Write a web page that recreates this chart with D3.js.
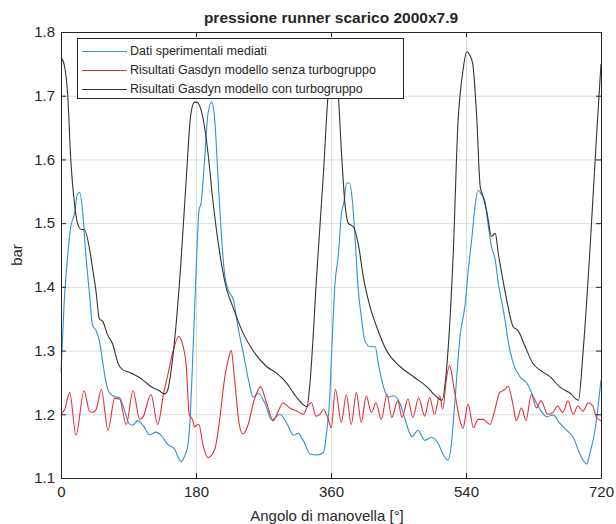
<!DOCTYPE html>
<html>
<head>
<meta charset="utf-8">
<script src="https://cdn.jsdelivr.net/npm/d3@7"></script>
<style>
  body { margin: 0; background: #fff; }
  svg text { font-family: "Liberation Sans", Arial, sans-serif; fill: #262626; }
</style>
</head>
<body>
<svg id="chart"></svg>
<script>
// crank angle [deg] vs pressure [bar]
let xTicks = [0, 180, 360, 540, 720];
let yTicks = [1.1, 1.2, 1.3, 1.4, 1.5, 1.6, 1.7, 1.8];
let seriesNames = ["Dati sperimentali mediati",
                   "Risultati Gasdyn modello senza turbogruppo",
                   "Risultati Gasdyn modello con turbogruppo"];

let measured = [[0,1.265],[4,1.37],[9,1.45],[13,1.494],[18,1.515],[22,1.546],[25,1.548],[29,1.515],[33,1.452],
  [38,1.389],[42,1.34],[47,1.331],[51,1.316],[56,1.279],[60,1.25],[64,1.235],[71,1.228],[78,1.226],[85,1.205],
  [91,1.185],[96,1.183],[102,1.19],[111,1.18],[118,1.168],[127,1.172],[134,1.166],[143,1.152],[151,1.146],
  [160,1.126],[165,1.135],[169,1.15],[172,1.19],[175,1.27],[178,1.36],[181,1.45],[184,1.52],[187,1.533],
  [192,1.61],[196,1.672],[201,1.69],[205,1.662],[209.5,1.568],[214,1.479],[218,1.421],[223,1.395],[230,1.379],
  [236,1.337],[243,1.296],[250,1.254],[256,1.227],[263,1.233],[272,1.217],[281,1.191],[292,1.2],[301,1.186],
  [310,1.167],[316,1.17],[323,1.159],[332,1.138],[341,1.136],[350,1.14],[354,1.17],[358,1.22],[361,1.3],
  [365,1.4],[370,1.453],[374,1.516],[377,1.531],[381,1.563],[384.5,1.563],[388,1.541],[392,1.479],[396,1.4],
  [401,1.348],[405,1.316],[412,1.306],[419,1.306],[423,1.28],[430,1.243],[436,1.227],[443,1.229],[452,1.217],
  [459,1.191],[468,1.165],[476,1.175],[485,1.159],[494,1.164],[503,1.154],[509,1.138],[516,1.128],[520,1.148],
  [525,1.217],[532,1.322],[539,1.374],[543,1.426],[548,1.479],[552,1.526],[556,1.552],[560,1.546],[565,1.536],
  [570,1.494],[574,1.463],[579,1.442],[583,1.406],[588,1.374],[592,1.348],[596,1.316],[603,1.28],[612,1.259],
  [621,1.249],[630,1.227],[639,1.207],[648,1.196],[656,1.199],[665,1.186],[674,1.175],[683,1.164],[690,1.143],
  [696,1.128],[701,1.122],[705,1.138],[712,1.175],[720,1.254]];

let noTurbo = [[0,1.2],[5,1.208],[11.6,1.234],[20,1.167],[30.7,1.237],[38,1.205],[42.7,1.203],[47,1.208],
  [53.8,1.239],[62.7,1.175],[71.6,1.225],[78,1.224],[87,1.184],[96,1.237],[105,1.192],[109,1.195],[120,1.231],
  [129,1.184],[137,1.234],[143,1.265],[149,1.297],[157,1.322],[162,1.31],[167,1.276],[171,1.2],[176,1.19],
  [178,1.18],[180,1.182],[184,1.184],[189,1.153],[196,1.132],[205,1.145],[211.6,1.192],[218,1.255],[224,1.29],
  [227,1.3],[231,1.26],[238,1.182],[242.7,1.169],[249,1.182],[258,1.224],[266,1.243],[274,1.218],[283,1.19],
  [289,1.203],[296,1.218],[305,1.21],[314,1.205],[323,1.2],[329,1.213],[334,1.218],[340,1.197],[345,1.2],
  [350,1.208],[356,1.193],[360.4,1.179],[365.8,1.239],[373.8,1.187],[380.4,1.231],[387,1.184],[393.8,1.234],
  [400.4,1.187],[407,1.229],[413.8,1.203],[420,1.218],[427,1.192],[434.7,1.231],[441,1.195],[449,1.221],
  [454.7,1.195],[462.7,1.224],[469,1.195],[476.9,1.226],[484.9,1.197],[491.6,1.226],[498,1.2],[504.9,1.229],
  [509,1.208],[513.8,1.255],[518,1.276],[525,1.234],[531.6,1.192],[536,1.178],[542.7,1.216],[550,1.179],
  [556,1.192],[563,1.192],[572,1.184],[578,1.205],[585,1.234],[592,1.239],[596,1.244],[603,1.213],[607,1.19],
  [614,1.21],[620,1.19],[627,1.231],[634,1.21],[640,1.221],[649,1.2],[656,1.203],[662,1.213],[669,1.203],
  [676,1.221],[683,1.2],[689,1.213],[696,1.205],[703,1.218],[709,1.213],[714,1.195],[720,1.19]];

let withTurbo = [[0,1.76],[4,1.75],[9,1.7],[13,1.6],[18,1.53],[22,1.5],[27,1.49],[31,1.49],[38,1.46],[42,1.43],
  [47,1.39],[51,1.35],[56,1.345],[62,1.325],[69,1.31],[76,1.28],[82,1.27],[91,1.266],[104,1.258],[113,1.25],
  [122,1.242],[131,1.237],[138,1.232],[142,1.237],[147,1.27],[153,1.335],[160,1.44],[167,1.57],[173,1.67],
  [178,1.69],[181,1.69],[189,1.667],[196,1.61],[202,1.541],[211,1.458],[220,1.4],[229,1.369],[243,1.327],
  [256,1.3],[274,1.275],[287,1.265],[301,1.249],[314,1.227],[328,1.212],[332,1.25],[341,1.42],[350,1.58],
  [356,1.7],[362,1.75],[366,1.74],[370,1.696],[374,1.61],[379,1.526],[383,1.5],[390,1.494],[397,1.463],
  [403,1.416],[412,1.369],[421,1.337],[434,1.3],[452,1.275],[470,1.259],[488,1.243],[501,1.227],[508,1.222],
  [514,1.27],[523,1.453],[529.5,1.662],[532,1.7],[536,1.74],[541,1.769],[545,1.764],[549,1.75],[554,1.672],
  [559,1.557],[563,1.541],[568,1.516],[574,1.479],[579,1.484],[583,1.453],[590,1.406],[596,1.369],[603,1.337],
  [609,1.332],[619,1.306],[629,1.28],[639,1.269],[652,1.259],[665,1.243],[679,1.233],[690,1.222],[696,1.296],
  [705,1.453],[714,1.636],[720,1.75]];

let colours = ["#3591c7", "#e0303a", "#333333"];

let width = 616, height = 524;
let margin = {top: 32, right: 15, bottom: 46, left: 61};

let svg = d3.select("#chart")
  .attr("width", width)
  .attr("height", height);

let x = d3.scaleLinear().domain([0, 720]).range([margin.left, width - margin.right]);
let y = d3.scaleLinear().domain([1.1, 1.8]).range([height - margin.bottom, margin.top]);
let plotW = width - margin.left - margin.right;
let plotH = height - margin.top - margin.bottom;

// grid
svg.append("g")
  .attr("transform", "translate(" + margin.left + ",0)")
  .call(d3.axisLeft(y).tickValues(yTicks).tickSize(-plotW).tickFormat(""))
  .call(g => g.select(".domain").remove())
  .selectAll("line").attr("stroke", "#dedede");
svg.append("g")
  .attr("transform", "translate(0," + (height - margin.bottom) + ")")
  .call(d3.axisBottom(x).tickValues(xTicks).tickSize(-plotH).tickFormat(""))
  .call(g => g.select(".domain").remove())
  .selectAll("line").attr("stroke", "#dedede");

// lines
let line = d3.line()
  .x(d => x(d[0]))
  .y(d => y(d[1]))
  .curve(d3.curveMonotoneX);

[measured, noTurbo, withTurbo].forEach((s, i) => {
  svg.append("path")
    .datum(s)
    .attr("fill", "none")
    .attr("stroke", colours[i])
    .attr("stroke-width", 1.1)
    .attr("d", line);
});

// axes (ticks inside, box)
let fmt = d3.format(".1f");
function styleAxis(g) {
  g.select(".domain").attr("stroke", "#262626");
  g.selectAll(".tick line").attr("stroke", "#262626");
  g.selectAll("text").style("font-size", "15px").attr("fill", "#262626");
}
svg.append("g")
  .attr("transform", "translate(" + margin.left + ",0)")
  .call(d3.axisLeft(y).tickValues(yTicks).tickFormat(fmt).tickSizeInner(-5).tickSizeOuter(0).tickPadding(6))
  .call(styleAxis);
svg.append("g")
  .attr("transform", "translate(" + (width - margin.right) + ",0)")
  .call(d3.axisRight(y).tickValues(yTicks).tickFormat("").tickSizeInner(-5).tickSizeOuter(0))
  .call(styleAxis);
svg.append("g")
  .attr("transform", "translate(0," + (height - margin.bottom) + ")")
  .call(d3.axisBottom(x).tickValues(xTicks).tickFormat(d3.format("d")).tickSizeInner(-5).tickSizeOuter(0).tickPadding(8))
  .call(styleAxis);
svg.append("g")
  .attr("transform", "translate(0," + margin.top + ")")
  .call(d3.axisTop(x).tickValues(xTicks).tickFormat("").tickSizeInner(-5).tickSizeOuter(0))
  .call(styleAxis);

// title + labels
svg.append("text")
  .attr("x", margin.left + plotW / 2)
  .attr("y", 23)
  .attr("text-anchor", "middle")
  .style("font-size", "15.5px")
  .style("font-weight", "bold")
  .attr("fill", "#000")
  .text("pressione runner scarico 2000x7.9");

svg.append("text")
  .attr("x", margin.left + plotW / 2 - 4)
  .attr("y", 521)
  .attr("text-anchor", "middle")
  .style("font-size", "15px")
  .text("Angolo di manovella [°]");

svg.append("text")
  .attr("transform", "translate(22," + (margin.top + plotH / 2) + ") rotate(-90)")
  .attr("text-anchor", "middle")
  .style("font-size", "15px")
  .text("bar");

// legend
let legend = svg.append("g").attr("transform", "translate(77,38)");
legend.append("rect")
  .attr("x", 0.5).attr("y", 0.5)
  .attr("width", 326)
  .attr("height", 60)
  .attr("fill", "#fff")
  .attr("stroke", "#262626")
  .attr("stroke-width", 1);
seriesNames.forEach((name, i) => {
  let row = legend.append("g").attr("transform", "translate(0," + (13 + i * 19) + ")");
  row.append("line")
    .attr("x1", 5).attr("x2", 50)
    .attr("y1", 0.5).attr("y2", 0.5)
    .attr("stroke", colours[i])
    .attr("stroke-width", 1.1);
  row.append("text")
    .attr("x", 53)
    .attr("dy", "0.35em")
    .style("font-size", "12.5px")
    .text(name);
});
</script>
</body>
</html>
